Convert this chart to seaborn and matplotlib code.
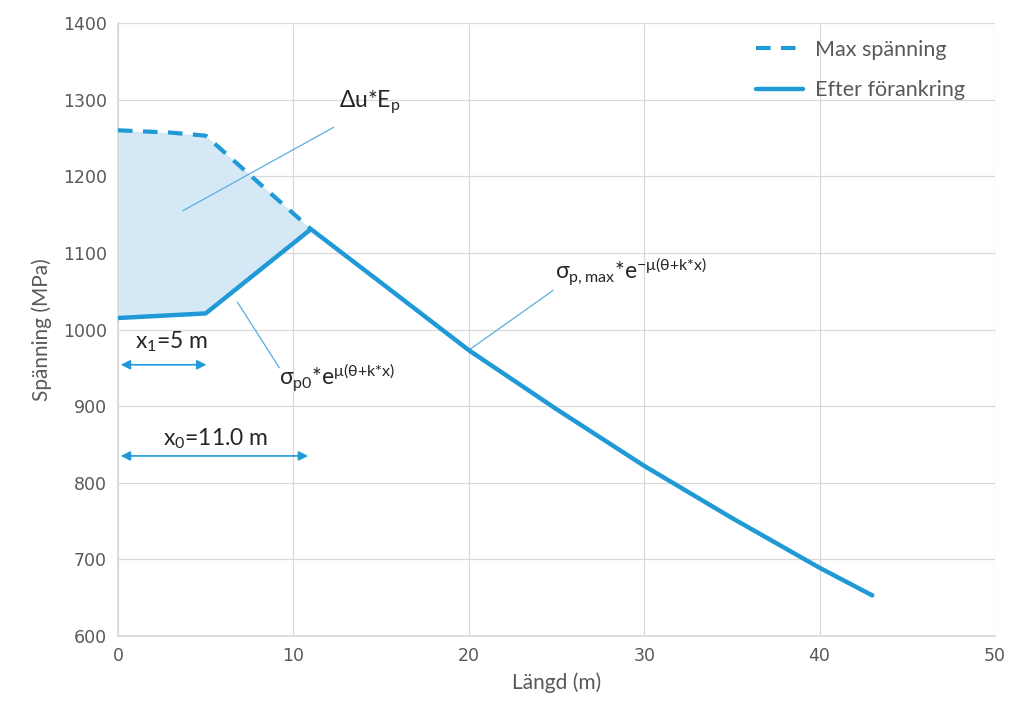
import matplotlib
matplotlib.use("Agg")
import matplotlib.pyplot as plt
import seaborn as sns
import pandas as pd

# Data
max_x = [0, 3, 5, 11]
max_y = [1260, 1257, 1253, 1131]
efter_x = [0, 5, 11, 15, 20, 25, 30, 35, 40, 43]
efter_y = [1015, 1021, 1131, 1061, 973, 896, 822, 754, 689, 653]
fill_lower = [1015, 1017, 1021, 1131]

blue = "#1f9ad6"
fill_col = "#d5e8f5"
grey_text = "#595959"

sns.set_theme(style="whitegrid")
plt.rcParams["font.family"] = ["Lato", "DejaVu Sans"]
plt.rcParams["mathtext.default"] = "regular"

fig = plt.figure(figsize=(10.11, 7.13), dpi=100)
ax = fig.add_axes([0.1167, 0.108, 0.8675, 0.8597])

df_max = pd.DataFrame({"x": max_x, "y": max_y})
df_eft = pd.DataFrame({"x": efter_x, "y": efter_y})

# skuggad yta mellan kurvorna
ax.fill_between(max_x, max_y, fill_lower, color=fill_col, lw=0, zorder=1)

sns.lineplot(data=df_max, x="x", y="y", ax=ax, color=blue, lw=3,
             linestyle=(0, (3.5, 2.5)), label="Max spänning", zorder=3)
sns.lineplot(data=df_eft, x="x", y="y", ax=ax, color=blue, lw=3.2,
             label="Efter förankring", zorder=3)

ax.set_xlim(0, 50)
ax.set_ylim(600, 1400)
ax.set_xticks(range(0, 51, 10))
ax.set_yticks(range(600, 1401, 100))
ax.grid(color="#d9d9d9", lw=0.9)
for s in ["top", "right"]:
    ax.spines[s].set_visible(False)
ax.spines["left"].set_color("#d9d9d9")
ax.spines["bottom"].set_color("#d9d9d9")
ax.tick_params(axis="both", labelsize=12.5, colors=grey_text, length=0, pad=8)
for lab in ax.get_xticklabels() + ax.get_yticklabels():
    lab.set_family("DejaVu Sans")

ax.set_xlabel("Längd (m)", fontsize=15, color=grey_text, labelpad=5)
ax.set_ylabel("Spänning (MPa)", fontsize=15, color=grey_text, labelpad=8)

leg = ax.legend(loc="upper right", bbox_to_anchor=(0.988, 1.004), frameon=False,
                fontsize=15.5, handlelength=2.2, labelspacing=0.95, handletextpad=0.55)
for t in leg.get_texts():
    t.set_color(grey_text)

# annoteringar
line_kw = dict(color="#5aaee0", lw=0.9, zorder=2)
txt_kw = dict(fontsize=16.5, color="#262626", va="center")
ax.plot([3.7, 12.3], [1155, 1264], **line_kw)
ax.text(12.6, 1297, "Δu*E$_{p}$", **txt_kw)

ax.plot([20, 24.8], [973, 1051], **line_kw)
ax.text(24.9, 1075, "σ$_{p,max}$*e$^{-μ(θ{+}k{*}x)}$", **txt_kw)

ax.plot([6.8, 9.2], [1036, 950], **line_kw)
ax.text(9.2, 937, "σ$_{p0}$*e$^{μ(θ{+}k{*}x)}$", **txt_kw)

arrow_kw = dict(arrowstyle="<|-|>", color=blue, lw=1.2, mutation_scale=14)
ax.annotate("", xy=(0, 954), xytext=(5.2, 954), arrowprops=arrow_kw)
ax.text(0.97, 984, "x$_{1}$=5 m", **txt_kw)
ax.annotate("", xy=(0, 835), xytext=(11, 835), arrowprops=arrow_kw)
ax.text(2.57, 858, "x$_{0}$=11.0 m", **txt_kw)

fig.savefig("out.png", dpi=100)
